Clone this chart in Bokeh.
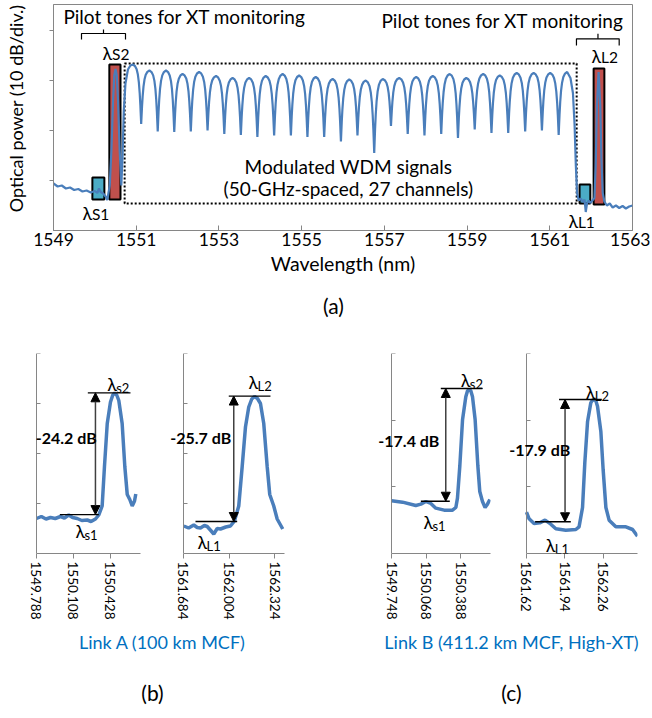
import math
from bokeh.plotting import figure
from bokeh.models import (Range1d, Label, Arrow, NormalHead, FixedTicker,
                          PrintfTickFormatter, CustomJSTickFormatter)
from bokeh.layouts import column, row
from bokeh.embed import file_html
from bokeh.resources import INLINE

FONT = "Lato"
TRACE = "#4a7ebb"
GRAY = "#868686"
TEAL = "#4bacc6"
RED = "#c0504d"
CAPTION_BLUE = "#0070c0"

# ---------------- (a) data ----------------
a_ticks_nm = [1549, 1551, 1553, 1555, 1557, 1559, 1561, 1563]
a_ticks_db = [-60, -50, -40, -30]
channel_nm = [1550.92, 1551.32, 1551.72, 1552.12, 1552.52, 1552.93, 1553.33, 1553.73,
              1554.13, 1554.54, 1554.94, 1555.34, 1555.75, 1556.15, 1556.55, 1556.96,
              1557.36, 1557.77, 1558.17, 1558.58, 1558.98, 1559.39, 1559.79, 1560.20,
              1560.61, 1561.01, 1561.42]
channel_peak_db = [-36.8, -38.0, -38.0, -38.7, -38.3, -39.1, -39.5, -39.5, -39.1, -38.7,
                   -39.0, -39.3, -39.7, -39.8, -40.0, -39.7, -39.5, -39.3, -39.1, -38.7,
                   -39.5, -38.7, -39.0, -38.5, -38.5, -38.5, -38.3]
channel_dip_db = [-48.7, -50.2, -50.3, -50.2, -50.0, -50.7, -50.9, -51.3, -51.0, -51.0,
                  -51.3, -51.3, -52.2, -51.0, -54.5, -49.1, -50.7, -51.0, -50.7, -51.5,
                  -49.8, -50.5, -50.5, -50.2, -50.0, -50.9]
# shape of one channel between its peak (0) and the neighbouring dip (1)
profile_t = [0.0, 0.25, 0.45, 0.6, 0.72, 0.82, 0.9, 0.96, 1.0]
profile_drop = [0.0, 0.025, 0.08, 0.17, 0.3, 0.48, 0.68, 0.87, 1.0]

# noise floor + pilot tones lambda_S1 / lambda_S2 (short-wavelength side)
lead_nm = [1549.00, 1549.10, 1549.20, 1549.30, 1549.40, 1549.50, 1549.60, 1549.70,
           1549.80, 1549.90, 1550.00, 1550.06, 1550.10, 1550.14, 1550.20, 1550.26,
           1550.30, 1550.36, 1550.40, 1550.44, 1550.47, 1550.50, 1550.53, 1550.56,
           1550.60, 1550.64, 1550.67, 1550.70, 1550.74, 1550.80, 1550.86]
lead_db = [-60.6, -61.2, -61.0, -61.6, -61.4, -61.9, -61.7, -62.2,
           -62.0, -62.4, -62.1, -62.5, -61.6, -62.3, -62.6, -63.2,
           -63.9, -61.0, -54.0, -44.0, -39.0, -37.7, -39.0, -44.0,
           -54.0, -61.0, -55.0, -46.0, -40.6, -37.8, -37.0]
# fall of last channel + pilot tones lambda_L1 / lambda_L2 + noise floor
tail_nm = [1561.50, 1561.56, 1561.60, 1561.63, 1561.66, 1561.70, 1561.75, 1561.80,
           1561.84, 1561.87, 1561.90, 1561.94, 1561.98, 1562.03, 1562.08, 1562.11,
           1562.14, 1562.18, 1562.22, 1562.25, 1562.28, 1562.32, 1562.38, 1562.45,
           1562.52, 1562.60, 1562.68, 1562.76, 1562.84, 1562.92, 1563.00]
tail_db = [-39.5, -42.5, -49.0, -57.0, -62.5, -64.0, -63.6, -64.3,
           -63.8, -66.3, -64.6, -64.0, -64.5, -64.0, -63.5, -57.0,
           -45.0, -38.3, -45.0, -56.0, -62.5, -64.2, -65.0, -64.6,
           -65.4, -65.0, -65.5, -65.1, -65.6, -65.2, -65.0]

pilot_box_left = [1549.94, 1550.35, 1561.72, 1562.06]
pilot_box_right = [1550.23, 1550.62, 1561.98, 1562.32]
pilot_box_top = [-59.4, -36.8, -60.8, -37.6]
pilot_box_bottom = [-63.8, -63.8, -64.6, -64.8]
pilot_box_color = [TEAL, RED, TEAL, RED]
wdm_box = dict(left=1550.72, right=1561.65, top=-36.6, bottom=-64.6)

# ---------------- (b), (c) data ----------------
b1_nm = [1549.788, 1549.83, 1549.87, 1549.909, 1549.95, 1549.996, 1550.03, 1550.067,
         1550.10, 1550.140, 1550.18, 1550.227, 1550.26, 1550.298, 1550.327, 1550.356,
         1550.376, 1550.400, 1550.428, 1550.448, 1550.465, 1550.482, 1550.500, 1550.529,
         1550.552, 1550.573, 1550.595, 1550.616, 1550.636, 1550.647]
b1_db = [-53.0, -52.6, -53.1, -52.8, -53.0, -52.6, -52.9, -52.3,
         -52.8, -53.0, -53.4, -53.3, -53.6, -53.1, -52.3, -50.5,
         -42.6, -34.0, -29.7, -28.3, -27.9, -28.3, -29.4, -34.0,
         -42.6, -48.2, -49.2, -50.5, -49.5, -48.1]
b2_nm = [1561.686, 1561.72, 1561.756, 1561.78, 1561.803, 1561.83, 1561.850, 1561.875,
         1561.896, 1561.92, 1561.943, 1561.98, 1562.013, 1562.041, 1562.071, 1562.095,
         1562.118, 1562.141, 1562.162, 1562.181, 1562.202, 1562.223, 1562.246, 1562.270,
         1562.288, 1562.316, 1562.340, 1562.379]
b2_db = [-54.5, -54.9, -54.3, -54.8, -54.9, -54.4, -54.6, -55.4,
         -56.1, -55.0, -55.1, -54.7, -54.5, -53.5, -50.5, -42.6,
         -34.7, -30.7, -29.1, -28.6, -29.0, -30.0, -34.0, -42.6,
         -48.2, -50.5, -53.1, -55.1]
c1_nm = [1549.748, 1549.850, 1549.972, 1550.019, 1550.065, 1550.111, 1550.157, 1550.234,
         1550.311, 1550.342, 1550.357, 1550.379, 1550.404, 1550.434, 1550.450, 1550.465,
         1550.480, 1550.496, 1550.520, 1550.545, 1550.563, 1550.588, 1550.612, 1550.634,
         1550.656]
c1_db = [-52.1, -52.3, -52.8, -52.6, -52.2, -52.5, -53.2, -53.5,
         -53.5, -53.1, -51.7, -46.8, -39.9, -36.5, -35.6, -35.4,
         -35.6, -36.5, -39.9, -46.8, -50.7, -52.2, -53.1, -52.6,
         -51.9]
c2_nm = [1561.620, 1561.642, 1561.683, 1561.731, 1561.775, 1561.823, 1561.865, 1561.948,
         1562.032, 1562.059, 1562.088, 1562.107, 1562.130, 1562.157, 1562.171, 1562.185,
         1562.199, 1562.213, 1562.241, 1562.260, 1562.283, 1562.310, 1562.366, 1562.450,
         1562.506, 1562.547]
c2_db = [-53.8, -54.8, -55.5, -55.4, -55.0, -55.6, -56.3, -56.5,
         -56.4, -56.0, -53.1, -46.4, -40.2, -37.4, -37.0, -36.9,
         -37.1, -37.9, -41.7, -47.4, -53.1, -55.0, -56.0, -56.0,
         -56.4, -57.4]

b1_ticks = [1549.788, 1550.108, 1550.428]
b2_ticks = [1561.684, 1562.004, 1562.324]
c1_ticks = [1549.748, 1550.068, 1550.388]
c2_ticks = [1561.62, 1561.94, 1562.26]

# measured pilot levels (peak of lambda2, floor at lambda1) and the XT values
xt_text = ["-24.2 dB", "-25.7 dB", "-17.4 dB", "-17.9 dB"]
xt_peak_db = [-27.86, -28.51, -35.25, -36.9]
xt_floor_db = [-52.22, -53.6, -52.16, -55.24]


# ---------------- helpers ----------------
def lam_label(p, x, y, sub, main_size, sub_size, dx, dy):
    p.add_layout(Label(x=x, y=y, text="λ", text_font=FONT, text_font_size=f"{main_size}px",
                       text_align="left", text_baseline="middle", text_color="black"))
    p.add_layout(Label(x=x, y=y, x_offset=dx, y_offset=dy, text=sub, text_font=FONT,
                       text_font_size=f"{sub_size}px", text_align="left",
                       text_baseline="middle", text_color="black"))


def text_canvas(width, height):
    c = figure(width=width, height=height, x_range=Range1d(0, width),
               y_range=Range1d(0, height), output_backend="svg", toolbar_location=None,
               x_axis_type=None, y_axis_type=None, min_border=0)
    c.outline_line_color = None
    c.grid.visible = False
    return c


# ---------------- panel (a) ----------------
wdm_x, wdm_y = [], []
for i in range(len(channel_nm) - 1):
    c0, c1 = channel_nm[i], channel_nm[i + 1]
    p0, p1 = channel_peak_db[i], channel_peak_db[i + 1]
    d = channel_dip_db[i]
    m = (c0 + c1) / 2
    for t, f in zip(profile_t, profile_drop):
        wdm_x.append(c0 + t * (m - c0))
        wdm_y.append(p0 - f * (p0 - d))
    for t, f in zip(profile_t[-2:0:-1], profile_drop[-2:0:-1]):
        wdm_x.append(c1 - t * (c1 - m))
        wdm_y.append(p1 - f * (p1 - d))
wdm_x.append(channel_nm[-1])
wdm_y.append(channel_peak_db[-1])

trace_a_x = lead_nm + wdm_x + tail_nm
trace_a_y = lead_db + wdm_y + tail_db

A_H = 285
pa = figure(width=620, height=A_H, x_range=Range1d(1549, 1563), y_range=Range1d(-70, -24.8),
            output_backend="svg", toolbar_location=None,
            min_border_left=23, min_border_right=18, min_border_top=4, min_border_bottom=55)
pa.grid.visible = False
pa.outline_line_color = GRAY
pa.border_fill_color = "white"

pa.xaxis.ticker = FixedTicker(ticks=a_ticks_nm)
pa.xaxis.major_tick_in = 5
pa.xaxis.major_tick_out = 0
pa.xaxis.minor_tick_line_color = None
pa.xaxis.major_label_text_font = FONT
pa.xaxis.major_label_text_font_size = "17.5px"
pa.xaxis.major_label_text_color = "black"
pa.xaxis.major_label_standoff = 2
pa.xaxis.axis_label = "Wavelength (nm)"
pa.xaxis.axis_label_text_font = FONT
pa.xaxis.axis_label_text_font_size = "19.5px"
pa.xaxis.axis_label_text_font_style = "normal"
pa.xaxis.axis_label_text_color = "black"
pa.xaxis.axis_label_standoff = 3
pa.yaxis.ticker = FixedTicker(ticks=a_ticks_db)
pa.yaxis.major_tick_in = 0
pa.yaxis.major_tick_out = 4
pa.yaxis.minor_tick_line_color = None
pa.yaxis.formatter = CustomJSTickFormatter(code="return ''")
for ax in (pa.xaxis[0], pa.yaxis[0]):
    ax.axis_line_color = GRAY
    ax.major_tick_line_color = GRAY

pa.quad(left=[wdm_box["left"]], right=[wdm_box["right"]], top=[wdm_box["top"]],
        bottom=[wdm_box["bottom"]], fill_color=None, line_color="black",
        line_width=2, line_dash="2 2")
pa.quad(left=pilot_box_left, right=pilot_box_right, top=pilot_box_top,
        bottom=pilot_box_bottom, fill_color=pilot_box_color, line_color="black", line_width=2)
pa.line(trace_a_x, trace_a_y, line_color=TRACE, line_width=2.2)

# braces over the pilot tones
pa.multi_line(xs=[[1549.677, 1549.677, 1550.741, 1550.741], [1550.209, 1550.209],
                  [1561.645, 1561.645, 1562.678, 1562.678], [1562.165, 1562.165]],
              ys=[[-31.8, -30.6, -30.6, -31.8], [-30.6, -29.8],
                  [-33.0, -31.66, -31.66, -33.0], [-31.66, -30.66]],
              line_color="black", line_width=1.2)

for x, y, txt in [(1552.17, -27.2, "Pilot tones for XT monitoring"),
                  (1559.86, -28.0, "Pilot tones for XT monitoring"),
                  (1556.13, -57.2, "Modulated WDM signals"),
                  (1556.13, -61.6, "(50-GHz-spaced, 27 channels)")]:
    pa.add_layout(Label(x=x, y=y, text=txt, text_font=FONT, text_font_size="19px",
                        text_align="center", text_baseline="middle", text_color="black"))
lam_label(pa, 1550.185, -34.4, "S2", 18, 15.5, 9.5, -1)
lam_label(pa, 1549.70, -66.4, "S1", 18, 15.5, 9.5, -1)
lam_label(pa, 1562.01, -35.0, "L2", 18, 15.5, 9.5, -1)
lam_label(pa, 1561.45, -68.0, "L1", 18, 15.5, 9.5, -1)

# y-axis title of (a), drawn in its own narrow strip to the left of the frame
ylab = text_canvas(30, A_H)
ylab.add_layout(Label(x=15, y=A_H - 131, angle=math.pi / 2,
                      text="Optical power (10 dB/div.)", text_font=FONT,
                      text_font_size="18px", text_align="center", text_baseline="middle",
                      text_color="black"))

cap_a = text_canvas(650, 33)
cap_a.add_layout(Label(x=333, y=13, text="(a)", text_font=FONT, text_font_size="21px",
                       text_align="center", text_baseline="middle", text_color="black"))


# ---------------- panels (b), (c) ----------------
def small_panel(width, borders, xr, axis_nm, yr, xticks, yticks, fmt, xs, ys, idx,
                text_xy, arrow_x, peak_span, floor_span, lam_hi, lam_lo):
    left, right, top, bottom = borders
    p = figure(width=width, height=312, x_range=Range1d(*xr), y_range=Range1d(*yr),
               output_backend="svg", toolbar_location=None,
               min_border_left=left, min_border_right=right,
               min_border_top=top, min_border_bottom=bottom)
    p.grid.visible = False
    p.outline_line_color = None
    p.border_fill_color = "white"
    p.xaxis.ticker = FixedTicker(ticks=xticks)
    p.xaxis.bounds = (axis_nm, xr[1])
    p.xaxis.formatter = PrintfTickFormatter(format=fmt)
    p.xaxis.major_label_orientation = "vertical"
    p.xaxis.major_label_text_font = FONT
    p.xaxis.major_label_text_font_size = "13.5px"
    p.xaxis.major_label_text_color = "black"
    p.xaxis.major_label_standoff = 3
    p.xaxis.major_tick_out = 5
    p.xaxis.major_tick_in = 0
    p.yaxis.fixed_location = axis_nm
    p.yaxis.ticker = FixedTicker(ticks=yticks)
    p.yaxis.formatter = CustomJSTickFormatter(code="return ''")
    p.yaxis.major_tick_in = 4
    p.yaxis.major_tick_out = 0
    p.yaxis.major_label_standoff = 0
    for ax in (p.xaxis[0], p.yaxis[0]):
        ax.axis_line_color = GRAY
        ax.major_tick_line_color = GRAY
        ax.minor_tick_line_color = None

    p.line(xs, ys, line_color=TRACE, line_width=3.5)
    p.segment(x0=[peak_span[0], floor_span[0]], x1=[peak_span[1], floor_span[1]],
              y0=[xt_peak_db[idx], xt_floor_db[idx]], y1=[xt_peak_db[idx], xt_floor_db[idx]],
              line_color="black", line_width=1.3)
    p.add_layout(Arrow(x_start=arrow_x, y_start=xt_floor_db[idx], x_end=arrow_x,
                       y_end=xt_peak_db[idx], line_color="#404040", line_width=1.5,
                       start=NormalHead(size=9, fill_color="black", line_color="black"),
                       end=NormalHead(size=9, fill_color="black", line_color="black")))
    p.add_layout(Label(x=text_xy[0], y=text_xy[1], text=xt_text[idx], text_font=FONT,
                       text_font_size="16px", text_font_style="bold", text_align="center",
                       text_baseline="middle", text_color="black"))
    lam_label(p, lam_hi[0], lam_hi[1], lam_hi[2], 18, 13, 9, -4)
    lam_label(p, lam_lo[0], lam_lo[1], lam_lo[2], 18, 13, 9, -4)
    return p


pb1 = small_panel(155, (26, 15, 33, 77), (1549.7015, 1550.6877), 1549.788, (-60, -20),
                  b1_ticks, [-50, -40, -30, -20], "%.3f", b1_nm, b1_db, 0,
                  (1550.045, -36.83), 1550.298, (1550.232, 1550.601), (1549.990, 1550.327),
                  (1550.400, -26.08, "s2"), (1550.125, -55.45, "s1"))
pb2 = small_panel(175, (9, 46, 33, 77), (1561.551, 1562.3913), 1561.684, (-60, -20),
                  b2_ticks, [-50, -40, -30, -20], "%.3f", b2_nm, b2_db, 1,
                  (1561.805, -36.83), 1562.036, (1562.001, 1562.293), (1561.768, 1562.060),
                  (1562.139, -25.74, "L2"), (1561.782, -57.62, "L1"))
pc1 = small_panel(170, (40, 10, 35, 75), (1549.554, 1550.662), 1549.748, (-60, -30),
                  c1_ticks, [-50, -40, -30], "%.3f", c1_nm, c1_db, 2,
                  (1549.908, -43.09), 1550.249, (1550.203, 1550.588), (1550.019, 1550.286),
                  (1550.388, -33.97, "s2"), (1550.043, -55.29, "s1"))
pc2 = small_panel(150, (3, 13, 32, 70), (1561.428, 1562.547), 1561.62, (-60, -30),
                  c2_ticks, [-50, -40, -30], "%.2f", c2_nm, c2_db, 3,
                  (1561.731, -44.39), 1561.942, (1561.892, 1562.249), (1561.692, 1561.990),
                  (1562.115, -35.81, "L2"), (1561.781, -58.67, "L1"))

# ---------------- captions ----------------
CAP_H = 84
cap = text_canvas(650, CAP_H)
for x, y, txt, color, size in [(162, CAP_H - 11, "Link A (100 km MCF)", CAPTION_BLUE, 18),
                               (511, CAP_H - 11, "Link B (411.2 km MCF, High-XT)", CAPTION_BLUE, 18),
                               (152, CAP_H - 62, "(b)", "black", 21),
                               (511, CAP_H - 62, "(c)", "black", 21)]:
    cap.add_layout(Label(x=x, y=y, text=txt, text_font=FONT, text_font_size=f"{size}px",
                         text_align="center", text_baseline="middle", text_color=color))

layout = column(row(ylab, pa), cap_a, row(pb1, pb2, pc1, pc2), cap)
open("out.html", "w").write(file_html(layout, INLINE))
